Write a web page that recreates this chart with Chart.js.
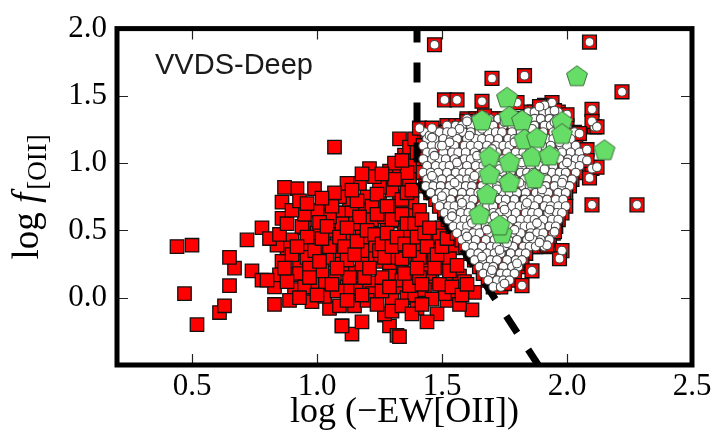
<!DOCTYPE html>
<html>
<head>
<meta charset="utf-8">
<script src="https://cdn.jsdelivr.net/npm/chart.js@4.4.1/dist/chart.umd.min.js"></script>
<style>
  html, body { margin: 0; padding: 0; background: #fff; }
</style>
</head>
<body>
<canvas id="grafico" width="715" height="448"></canvas>
<script>
// eixos
const xTicks = [0.5, 1.0, 1.5, 2.0, 2.5];
const yTicks = [0.0, 0.5, 1.0, 1.5, 2.0];

// amostra de baixa EW (quadrados vermelhos)
const lowEW = [
  [0.44,0.38],[0.50,0.39],[0.47,0.03],[0.52,-0.20],[0.61,-0.11],[0.63,-0.06],[0.65,0.09],[0.67,0.22],
  [0.65,0.30],[0.72,0.43],[0.78,0.52],[0.74,0.20],[0.78,0.13],[0.86,0.71],[0.86,0.59],[0.83,0.08],
  [0.83,-0.05],[0.86,0.27],[0.85,0.17],[0.90,0.43],[0.95,0.52],[0.97,0.40],[0.91,0.06],[0.98,0.05],
  [0.98,-0.03],[1.03,0.03],[1.04,0.71],[0.92,0.81],[0.99,0.81],[1.05,-0.08],[1.09,-0.06],[1.10,-0.21],
  [1.14,-0.27],[1.18,-0.18],[1.15,-0.06],[1.27,-0.13],[1.29,-0.21],[1.32,-0.28],[1.30,-0.01],[1.07,0.16],
  [1.14,0.19],[1.04,0.29],[1.03,0.39],[1.13,0.39],[1.18,0.53],[1.19,0.65],[1.20,0.75],[1.08,0.63],
  [1.13,0.70],[1.25,0.70],[1.26,0.46],[1.24,0.27],[1.22,0.10],[1.33,0.23],[1.33,0.39],[1.33,0.57],
  [1.38,0.70],[1.38,0.48],[1.37,0.15],[0.93,0.27],[1.01,0.12],[1.06,0.51],[0.91,0.17],[0.88,0.37],
  [0.84,0.39],[1.07,1.12],[1.33,1.18],[1.35,1.06],[1.21,0.96],[1.29,0.94],[1.27,0.87],[1.17,0.85],
  [0.94,0.53],[1.10,0.63],[1.14,0.63],[1.33,0.75],[1.31,0.63],[0.80,0.13],[1.03,0.01],[0.98,0.12],
  [1.04,0.28],[1.06,0.47],[1.16,0.05],[1.10,-0.21],[1.16,0.07],[1.21,0.11],[1.22,0.03],[1.20,0.30],
  [1.22,0.39],[1.33,0.41],[1.35,0.31],[1.29,0.22],[1.29,0.16],[1.27,-0.12],[1.39,0.39],[1.38,0.18],
  [0.93,0.18],[0.96,0.30],[1.10,0.33],[1.11,0.47],[0.81,0.44],[1.15,0.55],[1.22,0.58],[1.28,0.55],
  [1.35,0.50],[1.30,0.80],[1.36,0.85],[1.25,0.82],[1.18,0.45],[1.10,0.55],[1.05,0.60],[1.00,0.65],
  [0.95,0.62],[1.00,0.48],[1.08,0.40],[1.25,0.35],[1.30,0.30],[1.18,0.25],[1.10,0.25],[1.02,0.20],
  [0.97,0.22],[1.12,0.08],[1.26,0.05],[1.32,0.08],[1.36,0.00],[1.40,-0.08],[1.48,-0.12],[1.44,0.25],
  [1.39,0.02],[1.20,-0.02],[1.08,0.05],[0.95,0.08],[0.90,0.32],[1.33,0.95],[1.38,1.02],[1.37,0.88],
  [1.32,0.68],[1.22,0.68],[1.27,0.60],[1.16,0.72],[1.09,0.75],[1.01,0.56],[1.05,0.38],[1.18,0.35],
  [1.26,0.15],[1.34,0.13],[1.45,0.35],[1.52,-0.02],[1.56,0.03],[1.48,0.40],[1.46,0.12],[1.37,1.12],
  [1.39,0.98],[1.36,0.93],[1.23,0.90],[1.31,1.00],[1.34,0.73],[1.38,0.61],[1.41,0.52],[1.37,0.47],
  [1.42,0.40],[1.46,0.45],[1.47,0.30],[1.41,0.30],[1.35,0.30],[1.38,0.18],[1.45,0.18],[1.50,0.23],
  [1.53,0.13],[1.57,0.16],[1.59,0.06],[1.51,0.06],[1.43,0.06],[1.37,0.09],[1.63,0.04],[1.55,0.37],
  [1.50,0.52],[1.34,0.29],[1.49,0.46],[1.53,0.29],[1.59,0.12],[1.62,-0.09],[1.57,-0.05],[1.51,0.03],
  [1.44,-0.18],[1.33,-0.29],[1.46,-0.01],[1.41,0.15],[0.87,0.82],[0.85,0.47],[0.89,-0.02],[1.12,0.85],
  [0.88,0.55],[0.90,0.65],[0.93,0.72],[0.96,0.45],[0.99,0.35],[1.01,0.27],[1.02,0.44],[1.04,0.53],
  [1.06,0.68],[1.07,0.78],[1.09,0.45],[1.11,0.38],[1.12,0.28],[1.13,0.15],[1.15,0.32],[1.16,0.42],
  [1.17,0.60],[1.19,0.15],[1.20,0.50],[1.21,0.22],[1.23,0.47],[1.24,0.62],[1.24,0.77],[1.26,0.40],
  [1.27,0.30],[1.28,0.48],[1.28,0.68],[1.29,0.08],[1.30,0.38],[1.30,0.58],[1.31,0.88],[1.32,0.45],
  [1.34,0.62],[1.35,0.18],[1.35,0.40],[1.36,0.55],[1.36,0.78],[1.37,0.35],[1.38,0.80],[1.39,0.55],
  [1.40,0.45],[1.40,0.22],[1.41,0.65],[1.42,0.58],[1.42,0.10],[1.43,0.48],[1.44,0.38],[1.45,0.52],
  [1.47,0.22],[1.48,0.32],[1.49,0.10],[1.50,0.38],[1.52,0.44],[1.53,0.20],[1.54,0.08],[1.56,0.24],
  [1.58,0.02],[1.60,0.10],[1.12,-0.02],[1.18,0.02],[1.24,-0.05],[1.30,-0.10],[1.34,-0.06],[1.38,-0.12],
  [1.42,-0.05],[1.06,0.10],[1.00,0.02],[0.93,0.00],[0.88,0.12],[0.87,0.22],[0.92,0.38],[0.97,0.15],
  [1.08,0.22],[1.12,0.52],[1.14,0.80],[1.02,0.74],[0.96,0.70],[1.18,0.92],[1.26,0.92],[1.34,1.02],
  [1.40,1.08],[1.39,1.18]
];

// amostra de alta EW (círculos brancos), por linhas de log f
const highEWRows = [
  [1.38, [1.845,1.87,1.905,1.93,1.965]],
  [1.33, [1.60,1.635,1.66,1.69,1.725,1.75,1.78,1.815,1.84,1.87,1.895,1.93,1.96,1.99]],
  [1.28, [1.52,1.555,1.58,1.615,1.655,1.68,1.705,1.745,1.78,1.81,1.835,1.87,1.91,1.935,1.96,2.00]],
  [1.23, [1.43,1.465,1.49,1.52,1.56,1.585,1.615,1.65,1.685,1.715,1.74,1.78,1.815,1.84,1.87,1.905,1.945,1.97,1.995,2.03]],
  [1.18, [1.44,1.47,1.505,1.535,1.56,1.60,1.635,1.66,1.69,1.725,1.765,1.79,1.815,1.855,1.89,1.92,1.945,1.98,2.015]],
  [1.13, [1.425,1.46,1.49,1.515,1.55,1.59,1.615,1.645,1.68,1.715,1.745,1.77,1.81,1.845,1.87,1.90,1.935,1.975,2.00,2.035]],
  [1.08, [1.44,1.465,1.505,1.54,1.565,1.595,1.63,1.67,1.695,1.72,1.76,1.795,1.825,1.85,1.885,1.925,1.95,1.98,2.015,2.05]],
  [1.03, [1.425,1.46,1.49,1.515,1.55,1.59,1.615,1.645,1.68,1.715,1.745,1.775,1.805,1.84,1.875,1.905,1.93,1.97,2.005,2.035,2.06]],
  [0.98, [1.44,1.475,1.505,1.53,1.565,1.60,1.635,1.665,1.69,1.725,1.765,1.79,1.82,1.855,1.89,1.92,1.945,1.985,2.02,2.05]],
  [0.93, [1.425,1.455,1.485,1.52,1.555,1.585,1.61,1.65,1.685,1.71,1.74,1.775,1.815,1.84,1.865,1.905,1.94,1.97,1.995,2.035]],
  [0.88, [1.44,1.47,1.50,1.535,1.57,1.60,1.625,1.665,1.70,1.725,1.755,1.79,1.83,1.855,1.88,1.92,1.955,1.985,2.02]],
  [0.83, [1.435,1.465,1.495,1.53,1.565,1.595,1.62,1.66,1.695,1.72,1.75,1.785,1.825,1.85,1.875,1.915,1.95,1.98,2.01]],
  [0.78, [1.455,1.49,1.515,1.545,1.58,1.615,1.645,1.67,1.71,1.745,1.77,1.80,1.835,1.875,1.90,1.925,1.965,1.995]],
  [0.73, [1.475,1.50,1.535,1.575,1.60,1.625,1.665,1.70,1.73,1.755,1.79,1.83,1.855,1.885,1.92,1.955,1.985]],
  [0.68, [1.49,1.525,1.55,1.58,1.615,1.655,1.68,1.705,1.745,1.78,1.81,1.835,1.87,1.91,1.935,1.965,1.995]],
  [0.63, [1.51,1.54,1.575,1.605,1.63,1.67,1.705,1.73,1.76,1.795,1.835,1.86,1.885,1.925,1.96,1.98]],
  [0.58, [1.525,1.56,1.59,1.615,1.65,1.69,1.715,1.745,1.78,1.815,1.845,1.87,1.905,1.94,1.965]],
  [0.53, [1.545,1.575,1.60,1.64,1.675,1.70,1.73,1.765,1.805,1.83,1.855,1.895,1.93,1.955]],
  [0.48, [1.56,1.595,1.625,1.65,1.69,1.725,1.75,1.78,1.815,1.855,1.88,1.905,1.945]],
  [0.43, [1.58,1.61,1.635,1.675,1.71,1.74,1.765,1.80,1.84,1.865,1.895,1.93]],
  [0.38, [1.595,1.625,1.66,1.695,1.72,1.75,1.785,1.825,1.85,1.875,1.91]],
  [0.33, [1.615,1.645,1.68,1.71,1.735,1.775,1.81,1.835]],
  [0.28, [1.63,1.665,1.695,1.72,1.76,1.795,1.82]],
  [0.23, [1.65,1.68,1.705,1.745,1.78,1.805]],
  [0.18, [1.665,1.695,1.735,1.76,1.79]],
  [0.13, [1.685,1.72,1.745,1.77]],
  [0.08, [1.705,1.735]]
];
const highEWExtra = [
  [1.45,1.205],[1.53,1.155],[1.61,1.205],[1.70,1.105],[1.79,1.155],[1.88,1.105],[1.97,1.155],[1.47,1.055],
  [1.56,1.005],[1.64,1.055],[1.73,0.955],[1.82,1.005],[1.91,0.955],[2.00,1.005],[1.46,0.905],[1.55,0.855],
  [1.63,0.905],[1.72,0.805],[1.81,0.855],[1.90,0.805],[1.98,0.855],[1.50,0.755],[1.58,0.705],[1.66,0.755],
  [1.75,0.655],[1.84,0.705],[1.93,0.655],[1.54,0.605],[1.62,0.555],[1.71,0.605],[1.79,0.505],[1.88,0.555],
  [1.60,0.455],[1.68,0.505],[1.76,0.405],[1.85,0.455],[1.66,0.305],[1.73,0.355],[1.80,0.255],[1.70,0.205],
  [1.75,0.105],[1.57,1.255],[1.66,1.255],[1.86,1.255],[1.95,1.305],[1.75,1.305]
];
const highEWOutliers = [
  [1.47,1.88],[2.09,1.90],[1.70,1.63],[1.83,1.65],[2.22,1.53],[1.51,1.47],[1.56,1.47],[1.66,1.46],
  [2.10,1.40],[2.11,1.27],[2.08,1.10],[2.10,0.96],[2.09,0.89],[2.10,0.69],[2.28,0.69],[1.98,0.35],
  [1.97,0.29],[1.86,0.20],[1.82,0.09],[1.95,0.49],[1.92,0.39],[1.89,0.41],[2.12,0.97],[2.08,1.02],
  [2.10,1.31],[2.12,1.27],[2.05,1.22],[2.00,1.36],[1.94,1.45],[1.91,1.43],[1.41,1.26],[1.46,1.26],
  [1.46,1.19],[1.54,1.23],[1.50,1.13],[1.60,1.31],[1.67,1.35],[1.80,1.45],[1.89,1.42],[1.95,1.39]
];

// pentágonos verdes
const greenPoints = [
  [2.04,1.65],[1.76,1.49],[1.66,1.32],[1.77,1.35],[1.82,1.32],[1.98,1.31],[1.98,1.22],
  [1.83,1.18],[1.88,1.19],[2.15,1.10],[1.69,1.05],[1.77,1.01],[1.86,1.05],[1.93,1.06],
  [1.69,0.92],[1.77,0.86],[1.87,0.89],[1.68,0.77],[1.65,0.62],[1.74,0.48],[1.73,0.54]
];

// linha de separação tracejada
const cutLine = [[1.4, 2.0], [1.4, 0.88], [1.885, -0.5]];

const toXY = arr => arr.map(([x, y]) => ({ x, y }));
const highEW = highEWRows.flatMap(([y, xs]) => xs.map(x => ({ x, y })))
  .concat(toXY(highEWExtra), toXY(highEWOutliers));

// marcador pentagono
function makePentagon(r) {
  const c = document.createElement('canvas');
  const s = Math.ceil(r * 2 + 4);
  c.width = s; c.height = s;
  const g = c.getContext('2d');
  g.beginPath();
  for (let i = 0; i < 5; i++) {
    const a = -Math.PI / 2 + i * 2 * Math.PI / 5;
    const px = s / 2 + r * Math.cos(a), py = s / 2 + 1 + r * Math.sin(a);
    i === 0 ? g.moveTo(px, py) : g.lineTo(px, py);
  }
  g.closePath();
  g.fillStyle = '#66dd66';
  g.fill();
  g.lineWidth = 1;
  g.strokeStyle = '#3f6f3f';
  g.stroke();
  return c;
}

const serif = '"Liberation Serif", "DejaVu Serif", serif';

const moldura = {
  id: 'moldura',
  afterDatasetsDraw(chart) {
    const { ctx, chartArea: a, scales } = chart;
    ctx.save();
    ctx.strokeStyle = '#222';
    ctx.lineWidth = 1.2;
    xTicks.forEach(v => {
      const px = Math.round(scales.x.getPixelForValue(v)) + 0.5;
      ctx.beginPath();
      ctx.moveTo(px, a.bottom); ctx.lineTo(px, a.bottom - 11);
      ctx.moveTo(px, a.top); ctx.lineTo(px, a.top + 11);
      ctx.stroke();
    });
    yTicks.forEach(v => {
      const py = Math.round(scales.y.getPixelForValue(v)) + 0.5;
      ctx.beginPath();
      ctx.moveTo(a.left, py); ctx.lineTo(a.left + 11, py);
      ctx.moveTo(a.right, py); ctx.lineTo(a.right - 11, py);
      ctx.stroke();
    });
    ctx.strokeStyle = '#000';
    ctx.lineWidth = 5;
    ctx.strokeRect(a.left, a.top, a.right - a.left, a.bottom - a.top);

    // rótulo interno
    ctx.fillStyle = '#1a1a1a';
    ctx.font = '29px "Liberation Sans", Arial, sans-serif';
    ctx.textAlign = 'left';
    ctx.textBaseline = 'alphabetic';
    ctx.fillText('VVDS-Deep', 155, 74);

    // título eixo x
    ctx.fillStyle = '#000';
    ctx.font = '36px ' + serif;
    ctx.textAlign = 'center';
    ctx.fillText('log (\u2212EW[OII])', (a.left + a.right) / 2, 422);

    // título eixo y
    ctx.font = '37px ' + serif;
    const w1 = ctx.measureText('log ').width;
    ctx.font = 'italic 37px ' + serif;
    const w2 = ctx.measureText('f').width + 3;
    ctx.font = '27px ' + serif;
    const w3 = ctx.measureText('[OII]').width;
    const total = w1 + w2 + w3;
    ctx.translate(38, (a.top + a.bottom) / 2 + total / 2);
    ctx.rotate(-Math.PI / 2);
    ctx.textAlign = 'left';
    ctx.font = '37px ' + serif;
    ctx.fillText('log ', 0, 0);
    ctx.font = 'italic 37px ' + serif;
    ctx.fillText('f', w1, 0);
    ctx.font = '27px ' + serif;
    ctx.fillText('[OII]', w1 + w2, 8);
    ctx.restore();
  }
};

const ctx = document.getElementById('grafico').getContext('2d');
new Chart(ctx, {
  type: 'scatter',
  data: {
    datasets: [{
      label: 'pentagonos',
      data: toXY(greenPoints),
      pointStyle: makePentagon(11),
      pointRadius: 11,
      order: 1
    }, {
      label: 'alta EW',
      data: highEW,
      pointStyle: 'circle',
      pointRadius: 4.4,
      backgroundColor: '#ffffff',
      borderColor: '#4a4a4a',
      borderWidth: 1.1,
      order: 2
    }, {
      label: 'corte',
      data: toXY(cutLine),
      showLine: true,
      pointRadius: 0,
      borderColor: '#000',
      borderWidth: 7,
      borderDash: [20, 20],
      borderDashOffset: 6,
      borderCapStyle: 'butt',
      order: 3
    }, {
      label: 'alta EW (quadrados)',
      data: highEW,
      pointStyle: 'rect',
      pointRadius: 9.8,
      backgroundColor: '#ff0000',
      borderColor: '#111',
      borderWidth: 1.3,
      order: 4
    }, {
      label: 'baixa EW',
      data: toXY(lowEW),
      pointStyle: 'rect',
      pointRadius: 9.5,
      backgroundColor: '#ff0000',
      borderColor: '#111',
      borderWidth: 1.3,
      order: 5
    }]
  },
  options: {
    responsive: false,
    animation: false,
    events: [],
    layout: { padding: { top: 18, right: 23, left: 0, bottom: 0 } },
    scales: {
      x: {
        type: 'linear',
        min: 0.2,
        max: 2.5,
        afterBuildTicks: s => { s.ticks = xTicks.map(v => ({ value: v })); },
        afterFit: s => { s.height = 83; },
        grid: { display: false, drawTicks: false },
        border: { display: false },
        ticks: {
          color: '#000',
          padding: 3,
          font: { family: serif, size: 31 },
          callback: v => v.toFixed(1)
        }
      },
      y: {
        type: 'linear',
        min: -0.5,
        max: 2.0,
        afterBuildTicks: s => { s.ticks = yTicks.map(v => ({ value: v })); },
        afterFit: s => { s.width = 117; },
        grid: { display: false, drawTicks: false },
        border: { display: false },
        ticks: {
          color: '#000',
          padding: 10,
          font: { family: serif, size: 31 },
          callback: v => v.toFixed(1)
        }
      }
    },
    plugins: {
      legend: { display: false },
      tooltip: { enabled: false }
    }
  },
  plugins: [moldura]
});
</script>
</body>
</html>
